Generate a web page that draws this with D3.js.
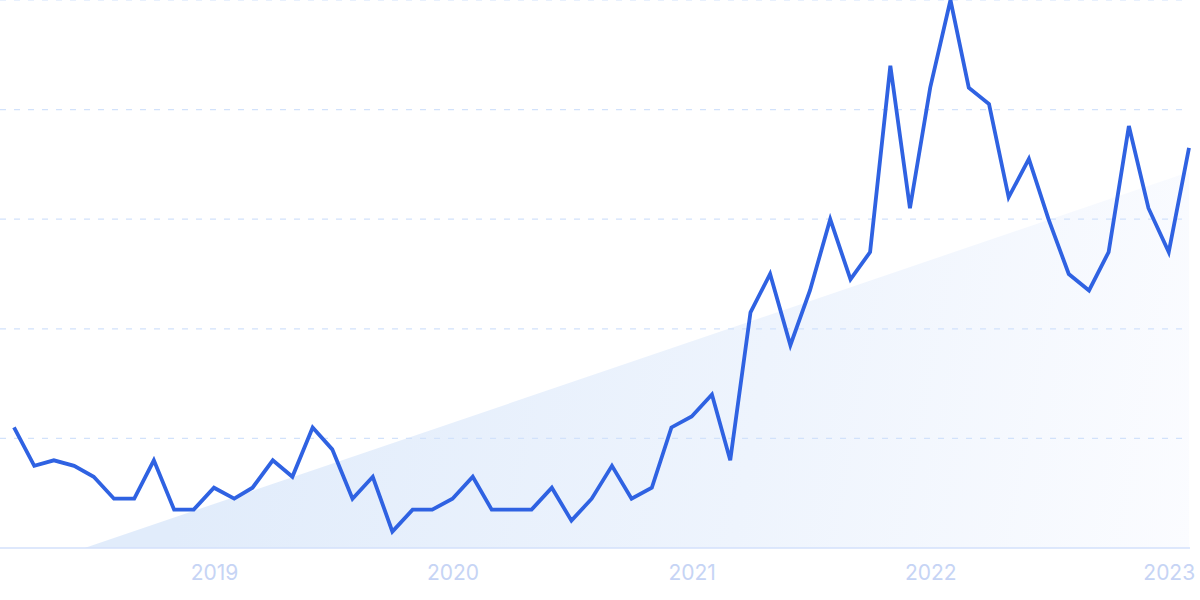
<!DOCTYPE html>
<html>
<head>
<meta charset="utf-8">
<script src="https://cdn.jsdelivr.net/npm/d3@7"></script>
<style>
  html, body { margin: 0; padding: 0; background: #ffffff; }
  svg { display: block; }
</style>
</head>
<body>
<svg id="chart" width="1200" height="600"></svg>
<script>
// ---- data ----
const months = [
  "2018-03","2018-04","2018-05","2018-06","2018-07","2018-08","2018-09","2018-10","2018-11","2018-12",
  "2019-01","2019-02","2019-03","2019-04","2019-05","2019-06","2019-07","2019-08","2019-09","2019-10","2019-11","2019-12",
  "2020-01","2020-02","2020-03","2020-04","2020-05","2020-06","2020-07","2020-08","2020-09","2020-10","2020-11","2020-12",
  "2021-01","2021-02","2021-03","2021-04","2021-05","2021-06","2021-07","2021-08","2021-09","2021-10","2021-11","2021-12",
  "2022-01","2022-02","2022-03","2022-04","2022-05","2022-06","2022-07","2022-08","2022-09","2022-10","2022-11","2022-12",
  "2023-01","2023-02"
];
const interest = [
  22,15,16,15,13,9,9,16,7,7,
  11,9,11,16,13,22,18,9,13,3,7,7,
  9,13,7,7,7,11,5,9,15,9,11,22,
  24,28,16,43,50,37,47,60,49,54,88,62,
  84,100,84,81,64,71,60,50,47,54,77,62,
  54,73
];
const yearTicks = ["2019-01","2020-01","2021-01","2022-01","2023-01"];
const yearLabels = ["2019","2020","2021","2022","2023"];
const gridValues = [20, 40, 60, 80, 100];
// decorative trend wedge (start, end)
const trendDates = ["2018-06-17","2023-02-01"];
const trendValues = [0, 68.6];

// ---- chart ----
const parse = d3.timeParse("%Y-%m");
const parseDay = d3.timeParse("%Y-%m-%d");
const data = months.map((m, i) => ({ date: parse(m), value: interest[i] }));
const trend = trendDates.map((d, i) => ({ date: parseDay(d), value: trendValues[i] }));

const svg = d3.select("#chart");
const x = d3.scaleTime()
  .domain([data[0].date, data[data.length - 1].date])
  .range([14, 1189]);
const y = d3.scaleLinear().domain([0, 100]).range([548, 0]);

const defs = svg.append("defs");
const grad = defs.append("linearGradient")
  .attr("id", "wedge")
  .attr("gradientUnits", "userSpaceOnUse")
  .attr("x1", 200).attr("y1", 380)
  .attr("x2", 1190).attr("y2", 560);
grad.append("stop").attr("offset", "0%").attr("stop-color", "#e1ecfb");
grad.append("stop").attr("offset", "55%").attr("stop-color", "#eef4fd");
grad.append("stop").attr("offset", "100%").attr("stop-color", "#fbfcff");

// wedge
const area = d3.area()
  .x(d => x(d.date))
  .y0(y(0))
  .y1(d => y(d.value));
svg.append("path")
  .datum(trend)
  .attr("d", area)
  .attr("fill", "url(#wedge)");

// gridlines
svg.append("g")
  .selectAll("line")
  .data(gridValues)
  .join("line")
  .attr("x1", 0)
  .attr("x2", 1190)
  .attr("y1", d => y(d))
  .attr("y2", d => y(d))
  .attr("stroke", "#d2e2fb")
  .attr("stroke-width", 1.2)
  .attr("stroke-dasharray", "6,8");

// baseline
svg.append("line")
  .attr("x1", 0).attr("x2", 1190)
  .attr("y1", y(0)).attr("y2", y(0))
  .attr("stroke", "#d3e0fb")
  .attr("stroke-width", 1.3);

// x labels
const xAxis = d3.axisBottom(x)
  .tickValues(yearTicks.map(parse))
  .tickFormat((d, i) => yearLabels[i])
  .tickSize(0)
  .tickPadding(17);
const gx = svg.append("g")
  .attr("transform", `translate(0,${y(0)})`)
  .call(xAxis);
gx.select(".domain").remove();
gx.selectAll("text")
  .attr("fill", "#c6d4f5")
  .attr("font-family", "Inter, 'Open Sans', sans-serif")
  .attr("font-size", 21);

// line
const line = d3.line()
  .x(d => x(d.date))
  .y(d => y(d.value));
svg.append("path")
  .datum(data)
  .attr("d", line)
  .attr("fill", "none")
  .attr("stroke", "#2f62e2")
  .attr("stroke-width", 3.8)
  .attr("stroke-linejoin", "miter")
  .attr("stroke-linecap", "butt");
</script>
</body>
</html>
